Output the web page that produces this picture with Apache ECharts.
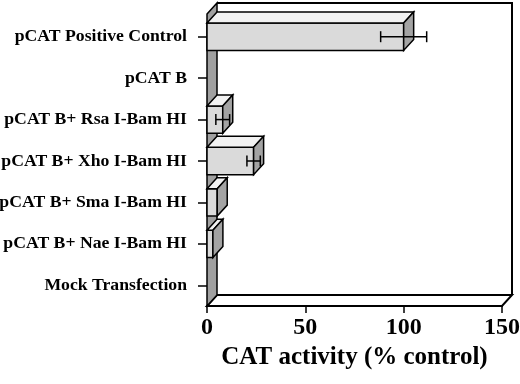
<!DOCTYPE html>
<html>
<head>
<meta charset="utf-8">
<script src="https://cdn.jsdelivr.net/npm/echarts@6/dist/echarts.min.js"></script>
<style>
    html, body { margin: 0; padding: 0; background: #fff; }
    #chart { width: 520px; height: 384px; }
</style>
</head>
<body>
<div id="chart"></div>
<script>
const categories = [
    "pCAT Positive Control",
    "pCAT B",
    "pCAT B+ Rsa I-Bam HI",
    "pCAT B+ Xho I-Bam HI",
    "pCAT B+ Sma I-Bam HI",
    "pCAT B+ Nae I-Bam HI",
    "Mock Transfection",
];
const activity = [100, 0, 8, 23.7, 5.2, 3, 0];
const errors = [11.7, 0, 3.5, 3.4, 0, 0, 0];
const xTicks = [0, 50, 100, 150];

// depth of the 3d effect
const dx = 10;
const dy = -11;
const font = "Liberation Serif";

let barData = [];
for (let i = 0; i < categories.length; i++) {
    barData.push([activity[i], i, errors[i]]);
}

function renderWalls(params, api) {
    let cs = params.coordSys;
    let x0 = cs.x, y0 = cs.y - 2;
    let x1 = cs.x + cs.width, y1 = cs.y + cs.height;
    return {
        type: "group",
        children: [
            {
                type: "polygon",
                shape: { points: [[x0, y1], [x0 + dx, y1 + dy], [x1 + dx, y1 + dy], [x1, y1]] },
                style: { fill: "#fff", stroke: "#000", lineWidth: 2 },
            },
            {
                type: "polyline",
                shape: { points: [[x0 + dx, y0 + dy], [x1 + dx, y0 + dy], [x1 + dx, y1 + dy]] },
                style: { fill: null, stroke: "#000", lineWidth: 2 },
            },
            {
                type: "polygon",
                shape: { points: [[x0, y0], [x0 + dx, y0 + dy], [x0 + dx, y1 + dy], [x0, y1]] },
                style: { fill: "#a0a0a0", stroke: "#000", lineWidth: 1.5 },
            },
        ],
    };
}

function renderBar(params, api) {
    let v = api.value(0);
    let c = api.value(1);
    let e = api.value(2);
    if (!v) return null;
    let p0 = api.coord([0, c]);
    let p1 = api.coord([v, c]);
    let h = api.size([0, 1])[1] * 0.66;
    let xa = p0[0], xb = p1[0];
    let yt = p0[1] - h / 2, yb = p0[1] + h / 2;
    let children = [
        {
            type: "polygon",
            shape: { points: [[xa, yt], [xb, yt], [xb, yb], [xa, yb]] },
            style: { fill: "#dadada", stroke: "#000", lineWidth: 1.5 },
        },
        {
            type: "polygon",
            shape: { points: [[xa, yt], [xa + dx, yt + dy], [xb + dx, yt + dy], [xb, yt]] },
            style: { fill: "#f2f2f2", stroke: "#000", lineWidth: 1.5 },
        },
        {
            type: "polygon",
            shape: { points: [[xb, yt], [xb + dx, yt + dy], [xb + dx, yb + dy], [xb, yb]] },
            style: { fill: "#a3a3a3", stroke: "#000", lineWidth: 1.5 },
        },
    ];
    if (e > 0) {
        let lo = api.coord([v - e, c]);
        let hi = api.coord([v + e, c]);
        let cap = 5.5;
        children.push(
            {
                type: "line",
                shape: { x1: lo[0], y1: lo[1], x2: hi[0], y2: hi[1] },
                style: { stroke: "#000", lineWidth: 1.5 },
            },
            {
                type: "line",
                shape: { x1: lo[0], y1: lo[1] - cap, x2: lo[0], y2: lo[1] + cap },
                style: { stroke: "#000", lineWidth: 1.5 },
            },
            {
                type: "line",
                shape: { x1: hi[0], y1: hi[1] - cap, x2: hi[0], y2: hi[1] + cap },
                style: { stroke: "#000", lineWidth: 1.5 },
            }
        );
    }
    return { type: "group", children: children };
}

let chart = echarts.init(document.getElementById("chart"), null, { renderer: "canvas" });
chart.setOption({
    animation: false,
    backgroundColor: "#fff",
    grid: { left: 207, right: 18, top: 16, bottom: 78, containLabel: false, outerBoundsMode: "none" },
    xAxis: {
        type: "value",
        min: xTicks[0],
        max: xTicks[xTicks.length - 1],
        interval: 50,
        name: "CAT activity (% control)",
        nameLocation: "middle",
        nameGap: 39,
        nameTextStyle: { fontFamily: font, fontWeight: "bold", fontSize: 25, color: "#000" },
        axisLine: { show: true, lineStyle: { color: "#000", width: 2 } },
        axisTick: { show: true, length: 7, lineStyle: { color: "#000", width: 1.5 } },
        axisLabel: { fontFamily: font, fontWeight: "bold", fontSize: 24, color: "#000", margin: 10 },
        splitLine: { show: false },
        z: 5,
    },
    yAxis: {
        type: "category",
        inverse: true,
        data: categories,
        axisLine: { show: false },
        axisTick: { show: true, alignWithLabel: true, length: 9, lineStyle: { color: "#000", width: 1.5 } },
        axisLabel: { fontFamily: font, fontWeight: "bold", fontSize: 17.7, color: "#000", margin: 20 },
        splitLine: { show: false },
    },
    series: [
        {
            type: "custom",
            renderItem: renderWalls,
            data: [[0, 0]],
            z: 1,
            silent: true,
        },
        {
            type: "custom",
            renderItem: renderBar,
            data: barData,
            encode: { x: 0, y: 1 },
            z: 2,
        },
    ],
});
</script>
</body>
</html>
